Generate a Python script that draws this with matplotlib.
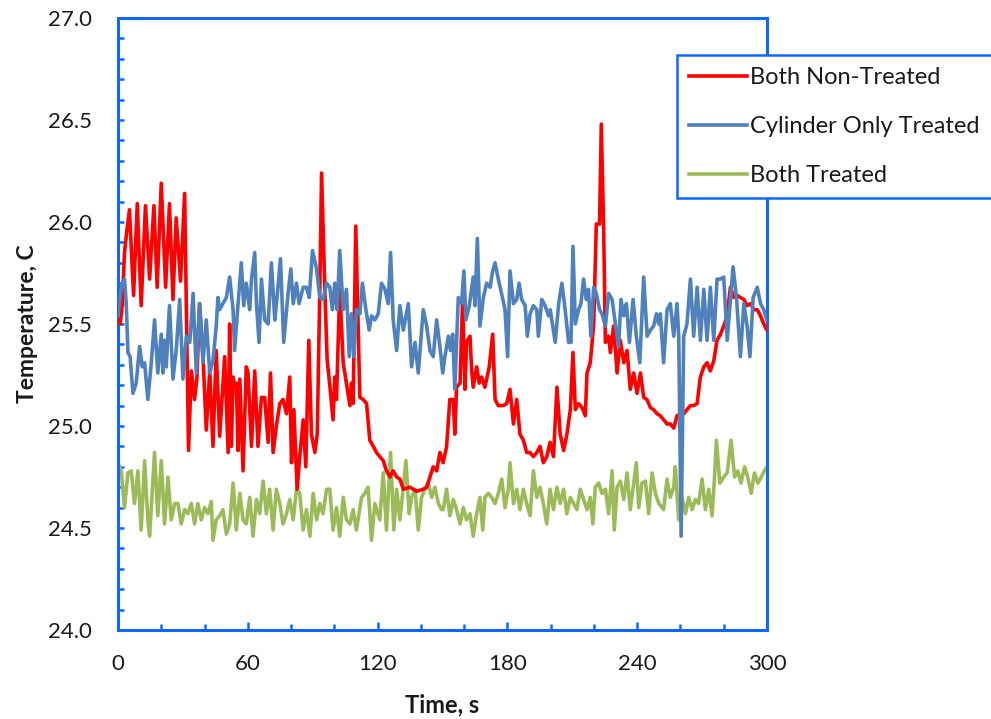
import matplotlib
matplotlib.use("Agg")
import matplotlib.pyplot as plt
from matplotlib.ticker import MultipleLocator

plt.rcParams['font.family'] = ['Lato', 'DejaVu Sans']

# ---- data ----
red_t = [0, 1, 2, 3, 4, 5.3, 7.2, 8.9, 10.7, 12.7, 14.6, 16.6, 18.1, 20.0, 22.0, 23.8, 25.4, 26.9, 28.9, 30.8,
         32.6, 33.9, 35.4, 36.5, 37.7, 39.3, 40.8, 42.4, 43.9, 45.4, 47.0, 49.3, 50.9, 51.6, 52.4, 53.2, 53.9,
         54.7, 55.5, 56.3, 57.8, 59.3, 60.1, 61.7, 63.2, 64.7, 66.3, 67.8, 69.4, 70.5, 71.7, 73.2, 74.8, 76.3,
         77.9, 79.4, 80.2, 81.3, 82.8, 84.0, 85.6, 86.8, 88.2, 89.4, 91.0, 92.1, 93.3, 94.1, 95.6, 96.7, 97.9,
         99.4, 100.2, 101.0, 102.5, 104.1, 105.6, 107.2, 107.9, 108.7, 109.9, 111.8, 113.3, 114.9, 116.4, 118.0,
         119.5, 121.0, 122.6, 124.1, 125.7, 127.2, 128.8, 130.3, 131.9, 134.9, 138.0, 141.1, 142.7, 144.2, 145.7,
         147.3, 148.8, 150.3, 151.9, 153.4, 155.0, 155.7, 156.5, 158.1, 159.3, 160.4, 161.1, 162.7, 163.5, 164.2,
         165.8, 167.0, 168.1, 169.6, 171.6, 173.2, 174.3, 175.8, 178.1, 179.7, 181.2, 182.8, 184.3, 185.8, 187.4,
         188.9, 190.5, 192.0, 193.6, 195.1, 196.6, 198.2, 199.7, 201.3, 202.9, 204.4, 206.0, 207.5, 209.1, 210.3,
         211.4, 212.9, 214.5, 216.0, 216.8, 218.3, 219.9, 221.1, 222.6, 223.4, 224.5, 225.3, 226.8, 227.6, 229.1,
         230.7, 232.2, 233.8, 235.3, 236.8, 238.4, 239.9, 241.5, 243.0, 244.5, 246.1, 247.6, 249.2, 250.7, 252.3,
         253.8, 255.3, 256.9, 258.4, 260.0, 261.5, 263.0, 264.6, 266.1, 267.7, 269.2, 270.8, 272.3, 273.8, 275.4,
         276.9, 278.5, 280.0, 281.6, 283.1, 284.6, 286.2, 287.7, 289.3, 290.8, 292.4, 293.9, 295.5, 297.0, 298.5,
         300.0]
red_v = [25.52, 25.50, 25.60, 25.85, 25.95, 26.06, 25.64, 26.09, 25.59, 26.08, 25.72, 26.08, 25.68, 26.19, 25.68,
         26.09, 25.62, 26.02, 25.71, 26.14,
         24.88, 25.27, 25.13, 25.24, 25.60, 25.34, 24.98, 25.27, 24.90, 25.37, 24.95, 25.34, 24.87, 25.50, 24.90,
         25.24, 25.19, 25.21, 24.88, 25.23, 24.78, 25.29, 25.26, 24.90, 25.27, 24.90, 25.14, 25.14, 24.92, 25.26,
         24.87, 25.00, 25.11, 25.13, 25.06, 25.24, 24.82, 25.08, 24.69, 24.85, 25.03, 24.80, 25.42, 24.96, 24.87,
         24.96, 25.68, 26.24, 25.67, 25.32, 25.20,
         25.03, 25.24, 25.13, 25.67, 25.31, 25.21, 25.10, 25.21, 25.11, 25.98, 25.14, 25.13, 25.11, 24.93, 24.90,
         24.87, 24.85, 24.83, 24.78, 24.75, 24.78, 24.75, 24.74, 24.69, 24.70, 24.68, 24.69, 24.70, 24.75, 24.80,
         24.78, 24.87, 24.82, 24.90, 25.13, 25.13, 24.96, 25.19, 25.21, 25.62, 25.18, 25.41, 25.44, 25.27, 25.19,
         25.29, 25.21, 25.24, 25.19, 25.29, 25.45, 25.13, 25.10, 25.10, 25.11, 25.18, 25.01, 25.13, 24.96, 24.93,
         24.87, 24.87, 24.85, 24.87, 24.90, 24.82, 24.85, 24.92, 24.85, 25.19, 24.96, 24.88, 24.96, 25.08, 25.36,
         25.08, 25.11, 25.09, 25.05, 25.26, 25.31, 25.50, 25.99, 25.99, 26.48, 25.96, 25.41, 25.44, 25.36, 25.49,
         25.26, 25.42, 25.31, 25.37, 25.18, 25.26, 25.16, 25.26, 25.14, 25.13, 25.09, 25.08, 25.06, 25.05, 25.03,
         25.01, 25.01, 24.99, 25.05, 25.06, 25.06, 25.08, 25.10, 25.10, 25.11, 25.24, 25.29, 25.31, 25.27, 25.32,
         25.42, 25.45, 25.49, 25.54, 25.68, 25.63, 25.64, 25.63, 25.62, 25.59, 25.60, 25.57, 25.57, 25.54, 25.50,
         25.47]

blue_t = [0, 1.5, 3.0, 3.8, 4.6, 5.6, 6.9, 8.4, 10.0, 11.2, 12.3, 13.8, 15.4, 16.9, 18.4, 20.0, 20.8, 21.5, 22.3,
          23.8, 25.4, 26.9, 28.5, 30.0, 31.6, 33.2, 34.7, 36.2, 37.7, 39.3, 40.8, 42.4, 43.9, 45.4, 46.2,
          47.0, 48.5, 50.1, 51.6, 53.2, 53.9, 55.5, 57.0, 58.1, 59.3, 60.9, 61.7, 63.2, 64.0, 65.2, 66.3, 67.8,
          69.4, 70.9, 72.5, 73.5, 75.1, 76.6, 78.6, 79.9, 81.0, 82.5, 83.7, 85.6, 87.1, 88.4, 89.9, 91.8, 93.3,
          94.8, 96.4, 97.9, 99.1, 100.2, 101.3, 102.5, 104.1, 105.6, 106.9, 107.9, 109.0, 110.2, 111.8, 113.0,
          114.6, 116.1, 117.2, 118.7, 120.3, 121.8, 123.4, 124.9, 126.0, 127.2, 128.8, 130.3, 131.9, 134.2, 135.7,
          137.3, 138.8, 141.1, 142.7, 144.2, 145.7, 147.3, 148.8, 150.1, 151.1, 152.7, 153.7, 154.7, 155.7, 157.3,
          158.8, 159.9, 160.8, 162.4, 164.2, 165.0, 166.1, 167.3, 168.9, 170.4, 172.0, 173.2, 174.3, 175.8, 177.3,
          178.9, 180.1, 181.2, 182.8, 184.3, 185.4, 186.6, 188.2, 189.2, 190.5, 192.0, 193.6, 194.3, 195.9, 197.4,
          199.0, 199.8, 202.1, 203.7, 205.2, 206.7, 208.3, 209.4, 210.3, 211.4, 212.9, 214.0, 215.2, 216.5, 217.5,
          218.6, 219.9, 221.1, 222.6, 223.7, 225.3, 226.8, 228.4, 229.9, 231.4, 232.5, 233.8, 235.0, 236.4, 238.1,
          239.6, 241.2, 243.0, 244.6, 246.1, 247.6, 248.9, 250.0, 250.7, 252.2, 253.8, 255.3, 256.9, 258.4, 259.2,
          260.3, 261.5, 263.0, 264.6, 266.1, 267.7, 269.2, 270.8, 272.3, 273.8, 275.4, 276.9, 278.5, 280.0, 281.6,
          283.1, 284.3, 285.9, 287.7, 289.3, 290.8, 292.1, 293.6, 295.5, 297.0, 298.5, 300.0]
blue_v = [25.54, 25.68, 25.72, 25.60, 25.36, 25.34, 25.16, 25.21, 25.39, 25.29, 25.31, 25.13, 25.31, 25.52, 25.26,
          25.45, 25.26, 25.42, 25.29, 25.59, 25.23, 25.37, 25.62, 25.23, 25.44, 25.41, 25.65, 25.26, 25.60, 25.31,
          25.52, 25.26, 25.32, 25.49, 25.63,
          25.57, 25.60, 25.63, 25.73, 25.57, 25.37, 25.60, 25.80, 25.59, 25.70, 25.57, 25.72, 25.85, 25.60, 25.41,
          25.72, 25.52, 25.50, 25.80, 25.52, 25.63, 25.82, 25.41, 25.65, 25.77, 25.60, 25.70, 25.60, 25.68, 25.68,
          25.63, 25.86, 25.77, 25.63, 25.62, 25.70,
          25.68, 25.57, 25.70, 25.57, 25.86, 25.57, 25.67, 25.34, 25.55, 25.34, 25.57, 25.55, 25.70, 25.57, 25.47,
          25.54, 25.52, 25.55, 25.70, 25.67, 25.60, 25.85, 25.52, 25.37, 25.59, 25.47, 25.60, 25.29, 25.41, 25.26,
          25.57, 25.49, 25.37, 25.34, 25.52, 25.39, 25.26,
          25.34, 25.44, 25.37, 25.45, 25.18, 25.63, 25.60, 25.76, 25.52, 25.59, 25.73, 25.59, 25.92, 25.49, 25.63,
          25.70, 25.68, 25.76, 25.80, 25.72, 25.65, 25.57, 25.34, 25.76, 25.60, 25.62, 25.70, 25.62, 25.59, 25.44,
          25.55, 25.59, 25.57, 25.44, 25.62, 25.59, 25.54,
          25.57, 25.41, 25.60, 25.70, 25.57, 25.41, 25.41, 25.88, 25.50, 25.57, 25.60, 25.72, 25.62, 25.67, 25.44,
          25.68, 25.65, 25.57, 25.55, 25.49, 25.65, 25.62, 25.50, 25.39, 25.62, 25.54, 25.60, 25.41, 25.62, 25.44,
          25.31, 25.73, 25.44, 25.47, 25.49, 25.55, 25.50,
          25.55, 25.31, 25.57, 25.60, 25.44, 25.60, 25.44, 24.46, 25.44, 25.50, 25.72, 25.44, 25.68, 25.42, 25.67,
          25.42, 25.68, 25.42, 25.72, 25.72, 25.73, 25.42, 25.62, 25.78, 25.63, 25.34, 25.60, 25.49, 25.34, 25.63,
          25.68, 25.60, 25.57, 25.52]

green_t = [0, 1.5, 3.0, 4.6, 6.1, 7.6, 9.2, 10.7, 12.3, 13.8, 14.6, 16.9, 18.4, 20.0, 21.5, 23.1, 24.6, 26.2, 27.7,
           29.2, 30.8, 32.3, 33.9, 35.4, 36.9, 38.5, 40.0, 41.6, 43.1, 43.9, 45.4, 47.0,
           48.5, 50.1, 51.6, 53.2, 54.7, 56.3, 57.8, 59.3, 60.9, 62.4, 64.0, 65.5, 67.1, 68.6, 70.1, 71.7, 73.2,
           74.8, 76.3, 77.9, 79.4, 81.0, 82.5, 84.0, 85.6, 87.1, 88.7, 90.2, 91.8, 93.3, 94.8, 96.4,
           97.9, 99.4, 101.0, 102.5, 104.1, 105.6, 107.2, 108.7, 110.2, 112.6, 114.1, 115.6, 117.2, 118.7, 121.0,
           122.6, 124.1, 126.0, 127.5, 128.8, 130.3, 131.9, 133.1, 134.6, 135.7, 137.3, 138.8, 140.3, 141.9, 143.4,
           145.0, 146.5, 148.1, 149.6,
           150.3, 151.9, 153.4, 155.0, 156.5, 158.1, 159.6, 161.1, 162.7, 164.2, 165.8, 167.3, 168.6, 169.6, 171.2,
           172.7, 174.3, 175.8, 177.4, 178.9, 180.4, 181.2, 182.8, 184.3, 185.8, 187.4, 188.9, 190.5, 192.0, 193.6,
           195.1, 196.6, 198.2, 199.7,
           201.3, 202.9, 204.4, 206.0, 207.5, 209.1, 210.6, 212.1, 213.7, 215.2, 216.8, 218.3, 219.5, 220.6, 222.2,
           223.7, 225.3, 226.8, 228.4, 229.4, 230.7, 232.2, 233.8, 235.3, 236.8, 238.4, 239.6, 240.7, 242.2, 243.8,
           245.3, 246.9, 248.4, 250.0,
           252.2, 253.8, 255.3, 256.9, 257.6, 259.2, 260.7, 262.3, 263.8, 265.4, 266.9, 268.4, 270.0, 271.5, 273.1,
           274.6, 275.7, 276.6, 278.2, 280.0, 281.6, 283.4, 285.0, 286.5, 288.0, 289.6, 291.1, 292.7, 294.2, 295.8,
           297.3, 298.8, 300.0]
green_v = [24.82, 24.78, 24.60, 24.77, 24.78, 24.62, 24.78, 24.49, 24.83, 24.54, 24.46, 24.87, 24.56, 24.83, 24.52,
           24.75, 24.54, 24.62, 24.62, 24.52, 24.59, 24.57, 24.62, 24.52, 24.62, 24.54, 24.60, 24.57, 24.63, 24.44,
           24.54, 24.56,
           24.59, 24.47, 24.52, 24.72, 24.49, 24.67, 24.54, 24.52, 24.65, 24.46, 24.64, 24.57, 24.73, 24.57, 24.69,
           24.49, 24.69, 24.62, 24.52, 24.57, 24.64, 24.54, 24.69, 24.67, 24.49, 24.59, 24.46, 24.67, 24.54, 24.62,
           24.57, 24.69,
           24.69, 24.49, 24.60, 24.46, 24.65, 24.54, 24.52, 24.59, 24.49, 24.65, 24.67, 24.70, 24.44, 24.62, 24.54,
           24.77, 24.49, 24.87, 24.49, 24.69, 24.54, 24.70, 24.83, 24.57, 24.65, 24.69, 24.49, 24.65, 24.69, 24.72,
           24.65, 24.70, 24.62, 24.59,
           24.59, 24.69, 24.56, 24.64, 24.59, 24.52, 24.60, 24.54, 24.57, 24.46, 24.57, 24.65, 24.49, 24.65, 24.67,
           24.65, 24.62, 24.67, 24.74, 24.60, 24.69, 24.82, 24.62, 24.69, 24.59, 24.69, 24.62, 24.56, 24.78, 24.65,
           24.70, 24.62, 24.52, 24.69,
           24.59, 24.70, 24.62, 24.69, 24.57, 24.65, 24.62, 24.59, 24.69, 24.64, 24.59, 24.65, 24.52, 24.70, 24.72,
           24.67, 24.69, 24.57, 24.78, 24.49, 24.70, 24.73, 24.64, 24.77, 24.59, 24.72, 24.82, 24.60, 24.72, 24.73,
           24.57, 24.77, 24.67, 24.62,
           24.59, 24.74, 24.65, 24.70, 24.80, 24.54, 24.65, 24.57, 24.65, 24.59, 24.64, 24.62, 24.74, 24.59, 24.69,
           24.56, 24.74, 24.93, 24.72, 24.75, 24.77, 24.93, 24.75, 24.78, 24.72, 24.80, 24.75, 24.67, 24.77, 24.72,
           24.75, 24.78, 24.80]

series_labels = ["Both Non-Treated", "Cylinder Only Treated", "Both Treated"]
x_ticks = [0, 60, 120, 180, 240, 300]
y_ticks = [24.0, 24.5, 25.0, 25.5, 26.0, 26.5, 27.0]

# ---- styling ----
SPINE = '#1166FF'
colors = ['#FF0000', '#4F81BD', '#9BBB59']
TXT = '#1a1a1a'

fig = plt.figure(figsize=(9.91, 7.19), dpi=100)
ax = fig.add_axes([118 / 991, 89 / 719, 649 / 991, 612 / 719])

ax.plot(red_t, red_v, color=colors[0], lw=2.6, label=series_labels[0], zorder=3)
ax.plot(blue_t, blue_v, color=colors[1], lw=2.6, label=series_labels[1], zorder=4)
ax.plot(green_t, green_v, color=colors[2], lw=2.6, label=series_labels[2], zorder=2)

ax.set_xlim(0, 300)
ax.set_ylim(24.0, 27.0)
ax.set_xticks(x_ticks)
ax.set_yticks(y_ticks)
ax.set_yticklabels([f"{v:.1f}" for v in y_ticks])
ax.xaxis.set_minor_locator(MultipleLocator(20))
ax.yaxis.set_minor_locator(MultipleLocator(0.1))

for s in ax.spines.values():
    s.set_color(SPINE)
    s.set_linewidth(2.2)

ax.tick_params(axis='both', which='both', direction='in', color=SPINE, width=1.8,
               top=False, right=False, labelsize=16, labelcolor=TXT)
ax.tick_params(axis='y', which='both', length=4, pad=19)
ax.tick_params(axis='x', which='major', length=6, pad=17)
ax.tick_params(axis='x', which='minor', length=4)

ax.set_xlabel("Time, s", fontsize=17, fontweight='bold', labelpad=14.5, color=TXT)
ax.set_ylabel("Temperature, C", fontsize=16.5, fontweight='bold', labelpad=7, color=TXT)

leg = fig.legend(loc='upper left', bbox_to_anchor=(677 / 991, 1 - 55 / 719), borderaxespad=0,
                 fontsize=17, frameon=True, fancybox=False, handlelength=2.45, handletextpad=0.15,
                 labelspacing=1.2, borderpad=0.5)
leg.get_frame().set_edgecolor(SPINE)
leg.get_frame().set_linewidth(1.8)
leg.get_frame().set_alpha(1.0)
for t in leg.get_texts():
    t.set_color(TXT)

fig.savefig("out.png", dpi=100)
